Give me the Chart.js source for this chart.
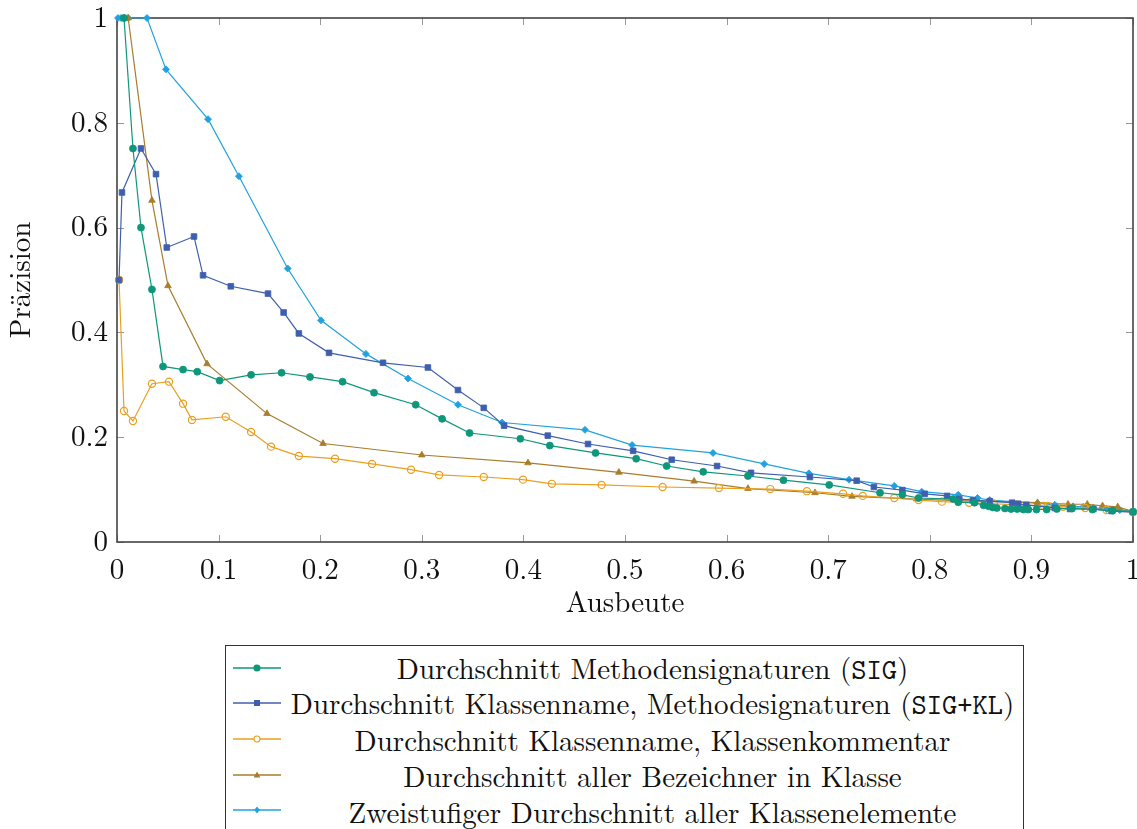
<!DOCTYPE html>
<html><head><meta charset="utf-8">
<script src="https://cdn.jsdelivr.net/npm/chart.js@4.4.1/dist/chart.umd.min.js"></script>
<style>
html,body{margin:0;padding:0;background:#fff;overflow:hidden;width:1137px;height:829px;}
#wrap{position:absolute;left:0;top:0;width:1150px;height:640px;}
#legend{position:absolute;left:225px;top:645px;width:799px;height:200px;border:1px solid #333;border-bottom:none;font-family:'Latin Modern Roman','Liberation Serif',serif;font-size:29px;line-height:35px;color:#111;padding-top:4px;box-sizing:border-box;background:#fff;}
.row{display:flex;align-items:center;height:35.6px;overflow:visible;}
.row svg{flex:0 0 auto;margin-left:6px;}
.row span{flex:1;text-align:center;white-space:nowrap;}
.mono{font-family:'Latin Modern Mono','Liberation Mono',monospace;}
</style></head>
<body>
<div id="wrap"><canvas id="c"></canvas></div>
<div id="legend"></div>
<script>
// ---- data ----
const sigX = [0.0069,0.0157,0.0236,0.0344,0.0453,0.065,0.079,0.101,0.132,0.162,0.190,0.222,0.253,0.294,0.320,0.347,0.397,0.426,0.471,0.511,0.541,0.577,0.621,0.656,0.701,0.751,0.773,0.789,0.823,0.828,0.844,0.853,0.858,0.862,0.866,0.874,0.880,0.886,0.892,0.897,0.905,0.915,0.925,0.940,0.960,0.980,1.0];
const sigY = [1.0,0.751,0.600,0.482,0.335,0.329,0.325,0.308,0.319,0.323,0.315,0.306,0.285,0.262,0.235,0.208,0.197,0.184,0.170,0.159,0.145,0.134,0.126,0.118,0.109,0.094,0.090,0.084,0.082,0.076,0.075,0.070,0.068,0.066,0.065,0.064,0.063,0.063,0.062,0.062,0.062,0.062,0.063,0.064,0.062,0.060,0.058];

const sigklX = [0.002,0.0049,0.0236,0.0384,0.049,0.0758,0.0847,0.112,0.1486,0.164,0.179,0.2087,0.2618,0.306,0.3356,0.361,0.381,0.424,0.4636,0.508,0.546,0.5906,0.624,0.682,0.728,0.745,0.773,0.795,0.817,0.829,0.8425,0.859,0.881,0.887,0.895,0.923,0.938,0.961,0.979,1.0];
const sigklY = [0.5,0.667,0.751,0.702,0.562,0.583,0.509,0.488,0.474,0.438,0.398,0.361,0.342,0.333,0.290,0.256,0.222,0.203,0.187,0.174,0.157,0.145,0.132,0.124,0.117,0.105,0.099,0.092,0.088,0.082,0.080,0.078,0.075,0.073,0.071,0.065,0.063,0.063,0.059,0.057];

const kkX = [0.002,0.0069,0.0157,0.0344,0.0512,0.065,0.0738,0.107,0.132,0.1516,0.179,0.2146,0.251,0.2894,0.317,0.361,0.3996,0.428,0.477,0.537,0.5925,0.643,0.679,0.7146,0.734,0.765,0.789,0.812,0.8386,0.863,0.886,0.912,0.916,0.931,0.953,0.974,1.0];
const kkY = [0.5,0.25,0.231,0.302,0.306,0.264,0.233,0.239,0.210,0.182,0.164,0.159,0.149,0.138,0.128,0.124,0.119,0.111,0.109,0.105,0.103,0.101,0.097,0.092,0.088,0.084,0.080,0.077,0.075,0.073,0.071,0.069,0.069,0.067,0.065,0.061,0.057];

const bezX = [0.011,0.0344,0.0502,0.0886,0.1476,0.2028,0.300,0.4045,0.494,0.568,0.621,0.687,0.7234,0.787,0.842,0.906,0.936,0.955,0.970,0.985,1.0];
const bezY = [1.0,0.652,0.489,0.340,0.245,0.188,0.166,0.151,0.133,0.116,0.102,0.094,0.087,0.082,0.078,0.075,0.072,0.072,0.069,0.067,0.058];

const zwX = [0.001,0.004,0.007,0.011,0.0295,0.0482,0.0896,0.120,0.168,0.2008,0.245,0.2864,0.3356,0.379,0.4606,0.507,0.5866,0.637,0.681,0.7205,0.765,0.792,0.828,0.847,0.859,0.906,0.923,0.941,0.951,0.961,0.974,0.987,1.0];
const zwY = [1,1,1,1,1,0.902,0.807,0.698,0.522,0.423,0.359,0.312,0.262,0.228,0.214,0.185,0.170,0.149,0.131,0.119,0.107,0.096,0.090,0.084,0.080,0.074,0.071,0.068,0.067,0.065,0.063,0.061,0.059];

const seriesNames = ['Durchschnitt Methodensignaturen','Durchschnitt Klassenname, Methodesignaturen','Durchschnitt Klassenname, Klassenkommentar','Durchschnitt aller Bezeichner in Klasse','Zweistufiger Durchschnitt aller Klassenelemente'];
const seriesCodes = ['SIG','SIG+KL','','',''];
const xTicks = [0,0.1,0.2,0.3,0.4,0.5,0.6,0.7,0.8,0.9,1];
const yTicks = [0,0.2,0.4,0.6,0.8,1];
const xTitle = 'Ausbeute';
const yTitle = 'Präzision';

// ---- styles ----
const colors = ['#0e977a','#3f5fae','#e9a020','#a87d2c','#21a2df'];
const shapes = ['circle','rect','circle','triangle','rectRot'];
const radii = [3.5,4,3.6,3.8,3.5];
const hollow = [false,false,true,false,false];
const xs = [sigX,sigklX,kkX,bezX,zwX];
const ys = [sigY,sigklY,kkY,bezY,zwY];

const datasets = xs.map((X,i)=>({
  label: seriesNames[i] + (seriesCodes[i] ? ' ('+seriesCodes[i]+')' : ''),
  data: X.map((x,j)=>({x:x,y:ys[i][j]})),
  borderColor: colors[i],
  backgroundColor: hollow[i] ? '#ffffff' : colors[i],
  pointBackgroundColor: hollow[i] ? 'rgba(255,255,255,0)' : colors[i],
  pointBorderColor: colors[i],
  pointBorderWidth: hollow[i] ? 1.2 : 0.8,
  pointStyle: shapes[i],
  pointRadius: radii[i],
  borderWidth: 1.2,
  tension: 0,
  clip: false
}));

const FONT = "'Latin Modern Roman', 'Liberation Serif', serif";

const frameTicks = {
  id: 'frameTicks',
  beforeDatasetsDraw(chart){
    const {ctx, chartArea:a, scales} = chart;
    ctx.save();
    ctx.strokeStyle = '#999';
    ctx.lineWidth = 1;
    const L = 7;
    xTicks.forEach(v=>{
      const p = Math.round(scales.x.getPixelForValue(v))+0.5;
      ctx.beginPath();
      ctx.moveTo(p,a.bottom); ctx.lineTo(p,a.bottom-L);
      ctx.moveTo(p,a.top); ctx.lineTo(p,a.top+L);
      ctx.stroke();
    });
    yTicks.forEach(v=>{
      const p = Math.round(scales.y.getPixelForValue(v))+0.5;
      ctx.beginPath();
      ctx.moveTo(a.left,p); ctx.lineTo(a.left+L,p);
      ctx.moveTo(a.right,p); ctx.lineTo(a.right-L,p);
      ctx.stroke();
    });
    ctx.strokeStyle = '#444';
    ctx.lineWidth = 1.6;
    ctx.strokeRect(a.left, a.top, a.right-a.left, a.bottom-a.top);
    ctx.restore();
  }
};

const fmt = v => String(Math.round(v*10)/10);

new Chart(document.getElementById('c'), {
  type: 'line',
  data: { datasets },
  options: {
    responsive: true,
    maintainAspectRatio: false,
    animation: false,
    layout: { padding: { left: 0, right: 17, top: 18, bottom: 19 } },
    plugins: { legend: { display: false }, tooltip: { enabled: false } },
    scales: {
      x: {
        type: 'linear', min: 0, max: 1,
        afterBuildTicks: s => { s.ticks = xTicks.map(v=>({value:v})); },
        afterFit: s => { s.height = 79; s.paddingLeft = 0; s.paddingRight = 0; },
        grid: { display: false },
        border: { display: false },
        ticks: { callback: fmt, color: '#111', padding: 3, font: { family: FONT, size: 29 }, maxRotation: 0, autoSkip: false },
        title: { display: true, text: xTitle, color: '#111', font: { family: FONT, size: 29 }, padding: { top: 0, bottom: 0 } }
      },
      y: {
        type: 'linear', min: 0, max: 1,
        afterBuildTicks: s => { s.ticks = yTicks.map(v=>({value:v})); },
        afterFit: s => { s.width = 117; s.paddingTop = 0; s.paddingBottom = 0; },
        grid: { display: false, drawTicks: false },
        border: { display: false },
        ticks: { callback: fmt, color: '#111', padding: 9, font: { family: FONT, size: 29 }, autoSkip: false },
        title: { display: true, text: yTitle, color: '#111', font: { family: FONT, size: 29 }, padding: { top: 4, bottom: 0 } }
      }
    }
  },
  plugins: [frameTicks]
});

// ---- HTML legend ----
function markerSVG(i){
  const c = colors[i], cx = 25, cy = 10;
  let m = '';
  if (shapes[i]==='circle') m = `<circle cx="${cx}" cy="${cy}" r="3" fill="${hollow[i]?'#fff':c}" stroke="${c}" stroke-width="1.1"/>`;
  else if (shapes[i]==='rect') m = `<rect x="${cx-3}" y="${cy-3}" width="6" height="6" fill="${c}"/>`;
  else if (shapes[i]==='triangle') m = `<polygon points="${cx},${cy-3.5} ${cx+3.3},${cy+2.5} ${cx-3.3},${cy+2.5}" fill="${c}"/>`;
  else m = `<polygon points="${cx},${cy-3.5} ${cx+2.8},${cy} ${cx},${cy+3.5} ${cx-2.8},${cy}" fill="${c}"/>`;
  return `<svg width="50" height="20" viewBox="0 0 50 20"><line x1="1" y1="${cy}" x2="49" y2="${cy}" stroke="${c}" stroke-width="1.3"/>${m}</svg>`;
}
const leg = document.getElementById('legend');
seriesNames.forEach((n,i)=>{
  const row = document.createElement('div');
  row.className = 'row';
  const code = seriesCodes[i] ? ` (<span class="mono">${seriesCodes[i]}</span>)` : '';
  row.innerHTML = markerSVG(i) + `<span>${n}${code}</span>`;
  leg.appendChild(row);
});
</script>
</body></html>
